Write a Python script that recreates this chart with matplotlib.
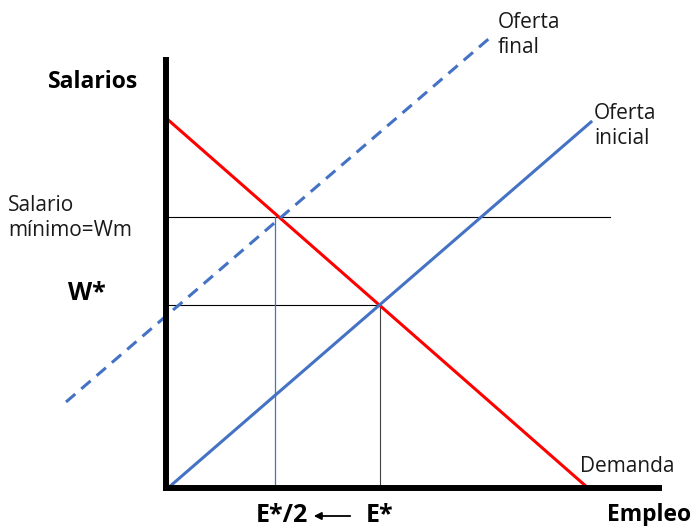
import matplotlib
matplotlib.use("Agg")
import matplotlib.pyplot as plt

# Coordinates in chart units (origin at the axes corner, 1 unit ~ 1 px)
demand_x = [0, 422]
demand_y = [370, 0]
supply_init_x = [2, 425]
supply_init_y = [0, 366]
supply_final_x = [-100, 326]
supply_final_y = [86, 452]

w_min = 271
w_star = 183
e_half = 109
e_star = 214
w_min_end = 444

BLUE = "#4472C4"
RED = "#FF0000"
FONT = ["Open Sans", "DejaVu Sans"]

fig = plt.figure(figsize=(6.93, 5.26), dpi=100)
ax = fig.add_axes([0, 0, 1, 1])
ax.set_xlim(-166, 527)
ax.set_ylim(-38, 488)
ax.axis("off")

# axes of the diagram
ax.plot([0, 0], [-2, 431], color="black", lw=4.3, solid_capstyle="butt", zorder=5)
ax.plot([-3, 496], [0, 0], color="black", lw=4.3, solid_capstyle="butt", zorder=5)

# guide lines
ax.plot([0, w_min_end], [w_min, w_min], color="black", lw=0.8)
ax.plot([0, e_star], [w_star, w_star], color="black", lw=0.8)
ax.plot([e_half, e_half], [0, w_min], color=BLUE, lw=0.9)
ax.plot([e_star, e_star], [0, w_star], color="#404040", lw=0.8)

# curves
ax.plot(demand_x, demand_y, color=RED, lw=2.2, zorder=4)
ax.plot(supply_init_x, supply_init_y, color=BLUE, lw=2.2, zorder=4)
ax.plot(supply_final_x, supply_final_y, color=BLUE, lw=2.2,
        linestyle=(0, (4, 2.6)), zorder=4)

tk = dict(family=FONT, fontsize=15, color="#1a1a1a")
bk = dict(family=FONT, fontsize=16.5, fontweight="bold", color="black")
bk2 = dict(family=FONT, fontsize=18, fontweight="bold", color="black")
ax.text(-118, 406, "Salarios", ha="left", va="center", **bk)
ax.text(-158, 270, "Salario\nmínimo=Wm", ha="left", va="center",
        linespacing=1.25, **tk)
ax.text(-98, 195, "W*", ha="left", va="center", **bk2)
ax.text(332, 453, "Oferta\nfinal", ha="left", va="center", linespacing=1.25, **tk)
ax.text(428, 362, "Oferta\ninicial", ha="left", va="center", linespacing=1.25, **tk)
ax.text(414, 22, "Demanda", ha="left", va="center", **tk)
ax.text(441, -27, "Empleo", ha="left", va="center", **bk)
ax.text(90, -27, "E*/2", ha="left", va="center", **bk2)
ax.text(200, -27, "E*", ha="left", va="center", **bk2)
ax.annotate("", xy=(145, -28), xytext=(187, -28),
            arrowprops=dict(arrowstyle="-|>", color="black", lw=1.3,
                            mutation_scale=11))

fig.savefig("out.png", dpi=100)
